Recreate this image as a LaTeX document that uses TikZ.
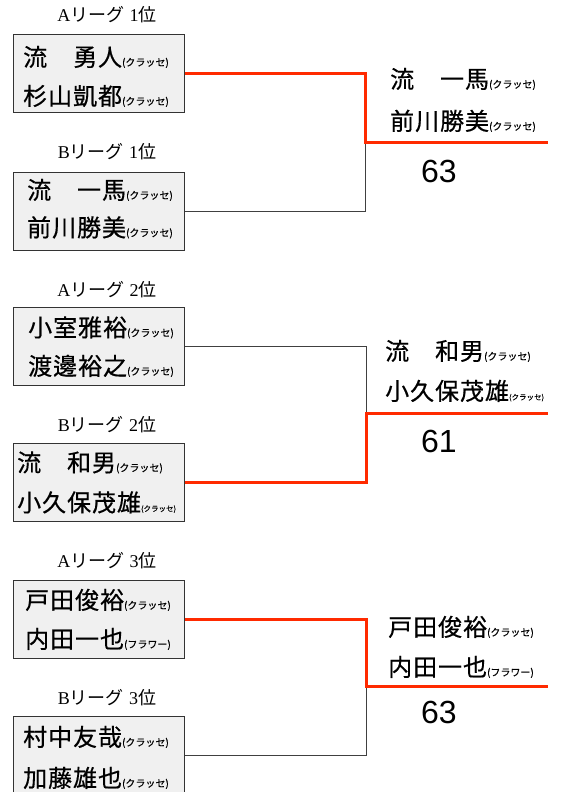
\documentclass[tikz,border=0pt]{standalone}
\usepackage{fontspec}
\newfontfamily\jp[FakeBold=0.5,LetterSpace=4]{Noto Sans CJK JP}
\newfontfamily\jpk[FakeBold=0.3]{Noto Sans CJK JP}
\newfontfamily\jpl{Noto Sans CJK JP}
\newfontfamily\lser{Liberation Serif}
\newfontfamily\lsans{Liberation Sans}
\definecolor{winred}{HTML}{FF2A00}
\definecolor{boxfill}{HTML}{F0F0F0}
\newcommand\kls[1]{{\jpk\fontsize{10}{10}\selectfont(#1)}}
\newcommand\klt[1]{{\jpk\fontsize{7.5}{8}\selectfont(#1)}}
\newcommand\leaguelbl[2]{{\lser #1}{\jpl リーグ}\ {\lser #2}{\jpl 位}}
\begin{document}
\begin{tikzpicture}[x=1pt,y=-1pt,
 box/.style={draw=black!80, line width=1pt, fill=boxfill, anchor=north west, inner sep=0pt, minimum width=171pt, minimum height=78pt},
 player/.style={anchor=base west, inner sep=0pt, font=\jp\fontsize{24}{24}\selectfont},
 league/.style={anchor=base, inner sep=0pt, font=\fontsize{18}{18}\selectfont},
 scoretext/.style={anchor=base west, inner sep=0pt, font=\lsans\fontsize{32}{32}\selectfont},
 winline/.style={draw=winred, line width=3pt},
 loseline/.style={draw=black!75, line width=1pt}]
\useasboundingbox (0,0) rectangle (562,792);
\clip (0,0) rectangle (562,792);

% ---------- group 1 ----------
\node[league] (la1) at (107,22) {\leaguelbl{A}{1}};
\node[box] (b1) at (13,34) {};
\node[player] (t1a) at (23,66) {流　勇人\kls{クラッセ}};
\node[player] (t1b) at (23,105) {杉山凱都\kls{クラッセ}};
\node[league] (lb1) at (107,158) {\leaguelbl{B}{1}};
\node[box] (b2) at (13,172) {};
\node[player] (t2a) at (27,199) {流　一馬\kls{クラッセ}};
\node[player] (t2b) at (27,236.5) {前川勝美\kls{クラッセ}};
\coordinate (j1) at (365,142);
\coordinate (e1) at (548,142);
\draw[loseline] (b2.east) -| (j1);
\draw[winline] (b1.east) -| (j1) -- (e1);
\node[player] (w1a) at (390,88) {流　一馬\kls{クラッセ}};
\node[player] (w1b) at (390,130) {前川勝美\kls{クラッセ}};
\node[scoretext] (s1) at (421,182) {63};

% ---------- group 2 ----------
\node[league] (la2) at (107,296) {\leaguelbl{A}{2}};
\node[box] (b3) at (13,307) {};
\node[player] (t3a) at (28,336.5) {小室雅裕\kls{クラッセ}};
\node[player] (t3b) at (28,375) {渡邊裕之\kls{クラッセ}};
\node[league] (lb2) at (107,431) {\leaguelbl{B}{2}};
\node[box] (b4) at (13,443) {};
\node[player] (t4a) at (17,471.5) {流　和男\kls{クラッセ}};
\node[player] (t4b) at (17,511.5) {小久保茂雄\klt{クラッセ}};
\coordinate (j2) at (366,413);
\coordinate (e2) at (548,413);
\draw[loseline] (b3.east) -| (j2);
\draw[winline] (b4.east) -| (j2) -- (e2);
\node[player] (w2a) at (385,360) {流　和男\kls{クラッセ}};
\node[player] (w2b) at (385,400) {小久保茂雄\klt{クラッセ}};
\node[scoretext] (s2) at (421,452) {61};

% ---------- group 3 ----------
\node[league] (la3) at (107,567.5) {\leaguelbl{A}{3}};
\node[box] (b5) at (13,580) {};
\node[player] (t5a) at (25,609) {戸田俊裕\kls{クラッセ}};
\node[player] (t5b) at (25,648) {内田一也\kls{フラワー}};
\node[league] (lb3) at (107,704.5) {\leaguelbl{B}{3}};
\node[box] (b6) at (13,716) {};
\node[player] (t6a) at (23,746) {村中友哉\kls{クラッセ}};
\node[player] (t6b) at (23,787) {加藤雄也\kls{クラッセ}};
\coordinate (j3) at (366,686);
\coordinate (e3) at (548,686);
\draw[loseline] (b6.east) -| (j3);
\draw[winline] (b5.east) -| (j3) -- (e3);
\node[player] (w3a) at (388,636) {戸田俊裕\kls{クラッセ}};
\node[player] (w3b) at (388,676) {内田一也\kls{フラワー}};
\node[scoretext] (s3) at (421,723) {63};
\end{tikzpicture}
\end{document}
